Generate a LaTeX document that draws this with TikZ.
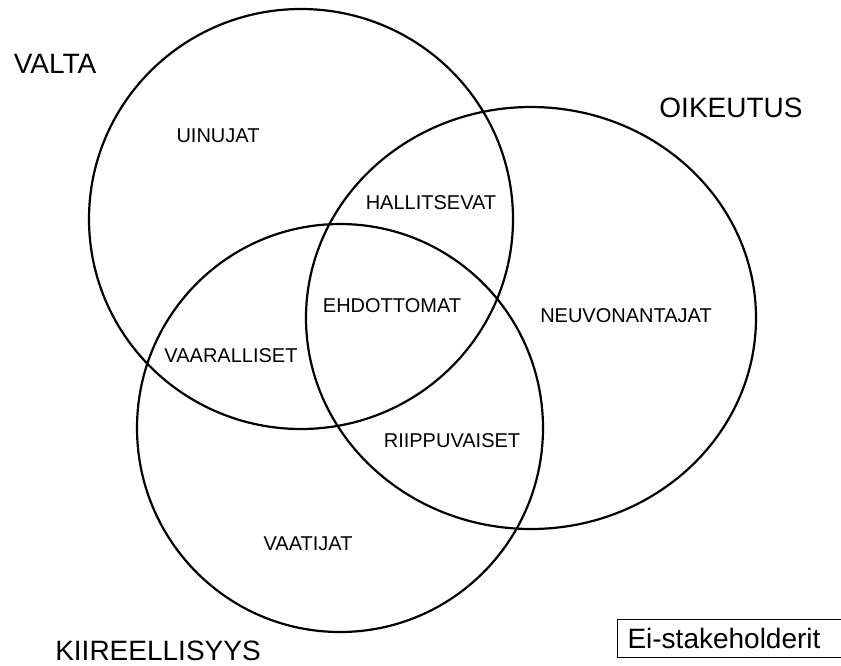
\documentclass[tikz,border=0pt]{standalone}
\usepackage{fontspec}
\setmainfont{Liberation Sans}
\usepackage{tikz}
\usetikzlibrary{positioning}

\begin{document}
\begin{tikzpicture}[
  x=0.5pt,y=-0.5pt,
  ring/.style ={draw,line width=1.1pt},
  title/.style={font=\fontsize{14}{16}\selectfont,inner sep=0pt},
  zone/.style ={font=\fontsize{10}{12}\selectfont,inner sep=0pt},
  outbox/.style={draw,line width=0.5pt,font=\fontsize{14}{16}\selectfont,
               anchor=west,inner xsep=5pt,text width=130pt,align=left,
               minimum height=19pt},
]
\useasboundingbox (0,0) rectangle (841,665);
% the three attributes
\coordinate (cv) at (301,219);
\coordinate (co) at (531,318);
\coordinate (ck) at (340,428);
\draw[ring] (cv) ellipse [x radius=212,y radius=210];
\draw[ring] (co) ellipse [x radius=225,y radius=211];
\draw[ring] (ck) ellipse [x radius=203,y radius=204];
% attribute titles
\node[title] (valta) at (55,64)  {VALTA};
\node[title] (oik)   at (731,108) {OIKEUTUS};
\node[title] (kiir)  at (158,651) {KIIREELLISYYS};
% stakeholder classes
\node[zone] (uin)  at (218,136) {UINUJAT};
\node[zone] (hal)  at (431,203) {HALLITSEVAT};
\node[zone] (ehd)  at (392,306) {EHDOTTOMAT};
\node[zone] (neu)  at (626,316) {NEUVONANTAJAT};
\node[zone] (vaar) at (231,356) {VAARALLISET};
\node[zone] (rii)  at (452,441) {RIIPPUVAISET};
\node[zone] (vaat) at (308,544) {VAATIJAT};
\node[outbox] (eis) at (617,638) {Ei-stakeholderit};
\end{tikzpicture}
\end{document}
